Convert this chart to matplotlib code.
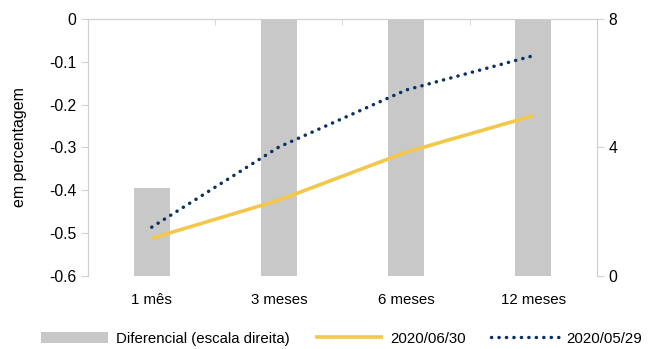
import matplotlib.pyplot as plt
import numpy as np

plt.rcParams['font.family'] = ['Liberation Sans', 'DejaVu Sans']

cats = ['1 mês', '3 meses', '6 meses', '12 meses']
diferencial = [2.75, 9.0, 9.5, 10.0]  # escala direita (barras acima de 8 cortadas)
jun30 = [-0.512, -0.423, -0.311, -0.226]
mai29 = [-0.486, -0.299, -0.166, -0.086]

grey = '#c8c8c8'
yellow = '#f2c74a'
navy = '#0b3163'
spine = '#d0d0d0'

fig = plt.figure(figsize=(6.48, 3.49), dpi=100)
ax = fig.add_axes([0.136, 0.209, 0.785, 0.737])
ax2 = ax.twinx()

x = np.arange(len(cats))
bars = ax2.bar(x, diferencial, width=0.28, color=grey, label='Diferencial (escala direita)', zorder=1)
ax2.set_ylim(0, 8)
ax2.set_yticks([0, 4, 8])

ax.set_zorder(ax2.get_zorder() + 1)
ax.patch.set_visible(False)
l1, = ax.plot(x, jun30, color=yellow, lw=2.6, label='2020/06/30', solid_capstyle='butt')
l2, = ax.plot(x, mai29, color=navy, lw=2.5, dashes=(0.05, 2.1), dash_capstyle='round', label='2020/05/29')

ax.set_ylim(-0.6, 0)
ax.set_yticks(np.arange(-0.6, 0.01, 0.1))
ax.set_yticklabels(['-0.6', '-0.5', '-0.4', '-0.3', '-0.2', '-0.1', '0'])
ax.set_xlim(-0.5, 3.5)
ax.set_xticks(x)
ax.set_xticklabels(cats)
ax.tick_params(axis='x', length=0, pad=12, labelsize=10.8)
ax.set_xticks(np.arange(0.5, 3.0, 1.0), minor=True)
ax.tick_params(axis='x', which='minor', length=4, color=spine, direction='in', top=True, bottom=False)
ax.tick_params(axis='y', length=5, color=spine, labelsize=11.3)
ax2.tick_params(axis='y', length=5, color=spine, labelsize=11.3)
ax.set_ylabel('em percentagem', fontsize=11.5, labelpad=16)

for a in (ax, ax2):
    a.spines['bottom'].set_visible(False)
    a.spines['top'].set_color(spine)
    a.spines['left'].set_color(spine)
    a.spines['right'].set_color(spine)

fig.legend(handles=[bars, l1, l2], loc='center', bbox_to_anchor=(0.527, 0.03), ncol=3,
           frameon=False, fontsize=10.8, handlelength=4.5, columnspacing=1.7, handletextpad=0.5)

fig.savefig('out.png', dpi=100)
